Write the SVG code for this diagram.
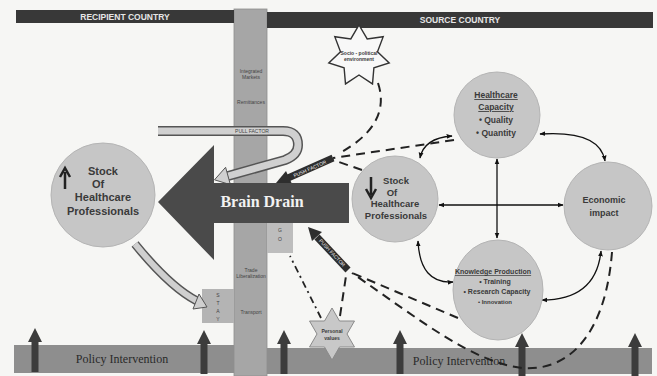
<svg xmlns="http://www.w3.org/2000/svg" width="657" height="376" viewBox="0 0 657 376">
<style>
.hdr{font-family:"Liberation Sans",Arial,sans-serif;font-weight:bold;font-size:8.5px;fill:#e6e6e6;text-anchor:middle}
.col{font-family:"Liberation Sans",Arial,sans-serif;font-size:5px;fill:#444;text-anchor:middle}
.ct{font-family:"Liberation Sans",Arial,sans-serif;font-weight:bold;fill:#3a3a3a;text-anchor:middle}
.pol{font-family:"Liberation Serif","Times New Roman",serif;font-size:12px;fill:#2a2a2a;text-anchor:middle}
.circ{fill:#c6c6c6;stroke:#b4b4b4;stroke-width:1}
.dash{fill:none;stroke:#222;stroke-width:2;stroke-dasharray:9 6}
.solid{fill:none;stroke:#111;stroke-width:1.3;marker-start:url(#ah);marker-end:url(#ah)}
.up{fill:#3c3c3c}
.small{font-family:"Liberation Sans",Arial,sans-serif;font-size:5px;fill:#eee;text-anchor:middle}
</style>
<defs>
<marker id="ah" viewBox="0 0 10 10" refX="9" refY="5" markerWidth="6" markerHeight="6" orient="auto-start-reverse" markerUnits="userSpaceOnUse">
<path d="M0 1 L10 5 L0 9 Z" fill="#111"/>
</marker>
<path id="uparrow" d="M-7 14 L0 0 L7 14 L3.5 14 L3.5 44 L-3.5 44 L-3.5 14 Z"/>
</defs>
<rect width="657" height="376" fill="#f6f6f4"/>

<g id="column">
<rect x="234" y="9" width="33" height="367" fill="#a6a6a6" stroke="#8e8e8e" stroke-width="0.8"/>
<text class="col" x="251" y="73">Integrated</text>
<text class="col" x="251" y="79">Markets</text>
<text class="col" x="251" y="104">Remittances</text>
<text class="col" x="251" y="272">Trade</text>
<text class="col" x="251" y="278">Liberalization</text>
<text class="col" x="251" y="314">Transport</text>
</g>

<g id="recipient-header">
<rect x="16" y="10" width="218" height="13" fill="#383838"/>
<text class="hdr" x="125" y="20">RECIPIENT COUNTRY</text>
</g>
<g id="source-header">
<rect x="267" y="12" width="386" height="16" fill="#383838"/>
<text class="hdr" x="460" y="23">SOURCE COUNTRY</text>
</g>

<g id="policy-left">
<rect x="14" y="345" width="220" height="28" fill="#8e8e8e"/>
<text class="pol" x="122" y="363">Policy Intervention</text>
</g>
<g id="policy-right">
<rect x="267" y="348" width="385" height="26" fill="#8e8e8e"/>
<text class="pol" x="459" y="365">Policy Intervention</text>
</g>
<g id="policy-arrows" class="up">
<use href="#uparrow" x="35" y="328"/>
<use href="#uparrow" x="204" y="330"/>
<use href="#uparrow" x="284" y="330"/>
<use href="#uparrow" x="400" y="330"/>
<use href="#uparrow" x="522" y="333"/>
<use href="#uparrow" x="635" y="333"/>
</g>

<g id="stay-box">
<rect x="202" y="289" width="32" height="34" fill="#b4b4b4"/>
<text class="col" x="218" y="297">S</text>
<text class="col" x="218" y="305">T</text>
<text class="col" x="218" y="313">A</text>
<text class="col" x="218" y="321">Y</text>
</g>
<g id="go-box">
<rect x="267" y="223" width="26" height="30" fill="#bdbdbd"/>
<text class="col" x="280" y="232">G</text>
<text class="col" x="280" y="241">O</text>
</g>

<g id="stock-recipient">
<circle class="circ" cx="103" cy="195" r="52"/>
<path d="M65 189 L65 172 M60 177 L65 168 L70 177" fill="none" stroke="#222" stroke-width="2.5"/>
<text class="ct" font-size="11" x="103" y="175">Stock</text>
<text class="ct" font-size="11" x="98" y="188">Of</text>
<text class="ct" font-size="11" x="103" y="201">Healthcare</text>
<text class="ct" font-size="11" x="103" y="215">Professionals</text>
</g>

<g id="connectors">
<!-- stay arrow -->
<path d="M135 244 Q170 287 197 301" fill="none" stroke="#555" stroke-width="9"/>
<path d="M135 244 Q170 287 197 301" fill="none" stroke="#cfcfcf" stroke-width="6"/>
<polygon points="207,307 193,309 199,294" fill="#cfcfcf" stroke="#555" stroke-width="1"/>
<!-- pull factor U-arrow -->
<path d="M158 131 L283 131 Q298 131 298 145 Q298 155 285 160 L228 176" fill="none" stroke="#555" stroke-width="10"/>
<path d="M158 131 L283 131 Q298 131 298 145 Q298 155 285 160 L228 176" fill="none" stroke="#d0d0d0" stroke-width="7"/>
<polygon points="214.5,179.8 230.4,184.7 225.6,167.3" fill="#d0d0d0" stroke="#555" stroke-width="1"/>
<text class="col" x="252" y="133" font-size="4.5">PULL FACTOR</text>
<!-- solid relations -->
<path class="solid" d="M420 158 Q424 138 452 136"/>
<path class="solid" d="M540 134 Q600 130 605 161"/>
<path class="solid" d="M542 300 Q596 300 601 251"/>
<path class="solid" d="M418 241 Q420 284 453 282"/>
<path class="solid" d="M497 159 L497 238"/>
<path class="solid" d="M439 205 L563 205"/>
<!-- dashed upper -->
<path class="dash" d="M454 140 L333 158"/>
<path class="dash" d="M362 170 L333 160"/>
<path class="dash" d="M378 83 Q392 125 338 154"/>
<!-- dashed lower -->
<path class="dash" d="M458 318 L350 272"/>
<path class="dash" d="M612 252 C606 330 572 372 522 368 C472 362 420 320 352 273"/>
<path d="M321 318 L290 256" fill="none" stroke="#222" stroke-width="1.8" stroke-dasharray="7 4 2 4"/>
<path class="dash" d="M340 316 L346 276"/>
<!-- labelled dark arrows -->
<line x1="333" y1="158" x2="288" y2="178" stroke="#2e2e2e" stroke-width="7"/>
<polygon points="276,183 286,171 292,184" fill="#2e2e2e"/>
<text class="small" transform="translate(310,169) rotate(-24)" y="1.5">PUSH FACTOR</text>
<line x1="348" y1="270" x2="317" y2="237" stroke="#2e2e2e" stroke-width="7"/>
<polygon points="308,227 312,241 322,232" fill="#2e2e2e"/>
<text class="small" transform="translate(332,253) rotate(47)" y="1.5">PUSH FACTOR</text>
</g>

<g id="brain-drain">
<polygon points="158,202 214,145 214,183 349,183 349,223 214,223 214,260" fill="#4a4a4a"/>
<text x="262" y="207" font-family="'Liberation Serif','Times New Roman',serif" font-weight="bold" font-size="16" fill="#f2f2f2" text-anchor="middle">Brain Drain</text>
</g>

<g id="healthcare-capacity">
<circle class="circ" cx="497" cy="115" r="43"/>
<text class="ct" font-size="8.5" x="496" y="98" text-decoration="underline">Healthcare</text>
<text class="ct" font-size="8.5" x="496" y="110" text-decoration="underline">Capacity</text>
<text class="ct" font-size="8.5" x="496" y="123">• Quality</text>
<text class="ct" font-size="8.5" x="496" y="136">• Quantity</text>
</g>

<g id="stock-source">
<circle class="circ" cx="395" cy="199" r="43"/>
<path d="M371 177 L371 195 M366 189 L371 198 L376 189" fill="none" stroke="#222" stroke-width="2.5"/>
<text class="ct" font-size="9.5" x="396" y="184">Stock</text>
<text class="ct" font-size="9.5" x="392" y="196">Of</text>
<text class="ct" font-size="9.5" x="395" y="207">Healthcare</text>
<text class="ct" font-size="9.5" x="396" y="219">Professionals</text>
</g>

<g id="economic-impact">
<circle class="circ" cx="608" cy="206" r="44"/>
<text class="ct" font-size="9" x="604" y="203">Economic</text>
<text class="ct" font-size="9" x="604" y="216">impact</text>
</g>

<g id="knowledge-production">
<ellipse class="circ" cx="498" cy="290" rx="45" ry="50"/>
<text class="ct" font-size="7" x="493" y="274" text-decoration="underline">Knowledge Production</text>
<text class="ct" font-size="7" x="495" y="284" font-weight="normal">• Training</text>
<text class="ct" font-size="7" x="497" y="294" font-weight="normal">• Research Capacity</text>
<text class="ct" font-size="6" x="495" y="304">• Innovation</text>
</g>

<g id="socio-political">
<polygon points="359,25 367.2,38.9 383.2,36.7 377.5,51.8 389.2,62.9 373.9,67.8 372.5,83.9 359,75 345.5,83.9 344.1,67.8 328.8,62.9 340.5,51.8 334.8,36.7 350.8,38.9" fill="#f8f8f8" stroke="#333" stroke-width="1.4"/>
<text class="ct" font-size="5" x="359" y="55">Socio - political</text>
<text class="ct" font-size="5" x="359" y="61">environment</text>
</g>

<g id="personal-values">
<polygon points="332,308 339.5,321 354.5,321 347,334 354.5,347 339.5,347 332,360 324.5,347 309.5,347 317,334 309.5,321 324.5,321" fill="#c8c8c8" stroke="#8a8a8a" stroke-width="1"/>
<text class="ct" font-size="5" x="332" y="333">Personal</text>
<text class="ct" font-size="5" x="332" y="340">values</text>
</g>
</svg>
